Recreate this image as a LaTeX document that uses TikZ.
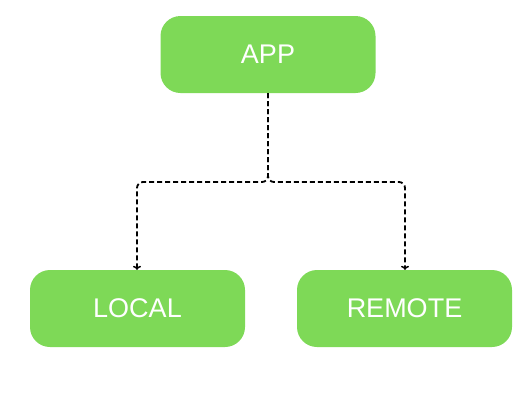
\documentclass[tikz,border=0pt]{standalone}
\usepackage{fontspec}
\setmainfont{Liberation Sans}
\usetikzlibrary{arrows.meta}
\definecolor{boxgreen}{HTML}{7ED957}
\begin{document}
\begin{tikzpicture}[x=1pt,y=-1pt,
  box/.style={fill=boxgreen,draw=none,rounded corners=20pt,minimum width=215pt,minimum height=77pt,
    text=white,font=\fontsize{27}{31}\selectfont,inner sep=0pt,anchor=center},
  link/.style={draw=black,line width=1.8pt,dash pattern=on 5pt off 3pt,rounded corners=6pt,
    -{To[length=4pt,width=8pt,line width=1.5pt]}}]
\useasboundingbox (0,0) rectangle (530,405);
\node[box] (app) at (268,54.5) {APP};
\node[box] (local) at (137.5,308.5) {LOCAL};
\node[box] (remote) at (404.5,308.5) {REMOTE};
\draw[link] (app.south) |- (137,182) -- (local.north -| 137,0);
\draw[link] (app.south) |- (405,182) -- (remote.north -| 405,0);
\end{tikzpicture}
\end{document}
